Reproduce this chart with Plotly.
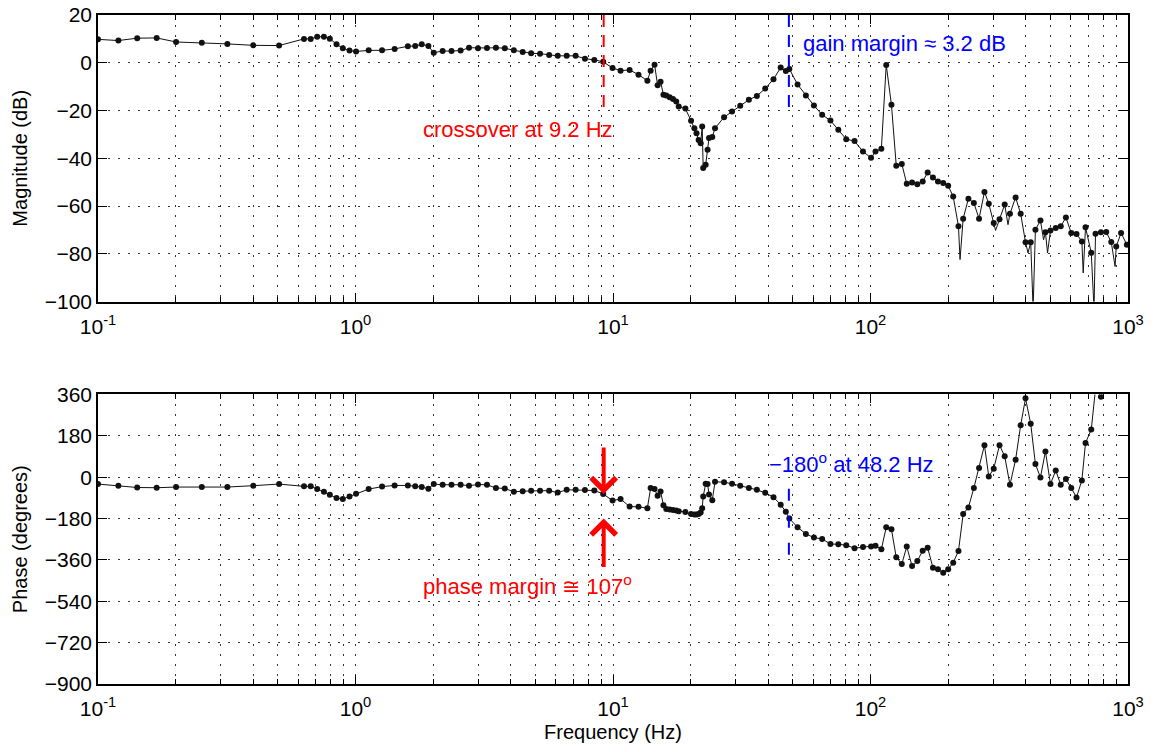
import math
import plotly.graph_objects as go

# ---------------- data ----------------
FREQ_HZ = [0.100, 0.120, 0.142, 0.169, 0.201, 0.253, 0.318, 0.401, 0.505, 0.631,
           0.670, 0.710, 0.754, 0.795, 0.844, 0.893, 0.948, 1.005, 1.125, 1.268,
           1.419, 1.597, 1.706, 1.808, 1.919, 2.013, 2.18, 2.36, 2.56, 2.76,
           2.99, 3.24, 3.51, 3.80, 4.12, 4.46, 4.81, 5.21, 5.65, 6.10,
           6.61, 7.16, 7.78, 8.46, 9.16, 9.96, 10.7, 11.6, 12.56, 13.6,
           14.0, 14.5, 14.9, 15.3, 15.7, 16.1, 16.6, 17.1, 17.6, 18.0,
           19.1, 20.1, 20.7, 21.1, 21.5, 21.9, 22.2, 22.4, 22.9, 23.3,
           23.6, 24.3, 24.9, 27.0, 29.0, 31.2, 33.7, 36.2, 39.0, 42.0,
           44.8, 46.9, 48.4, 52.1, 56.1, 60.3, 64.9, 69.9, 75.0, 80.5,
           86.7, 93.5, 100.5, 104.6, 110.2, 115.1, 120.6, 125.9, 132.3, 138.3,
           145.0, 152.0, 159.5, 166.7, 174.8, 182.8, 191.6, 200.3, 209.5, 219.6,
           229, 240, 252, 264, 277, 288, 301, 317, 332, 348,
           366, 383, 400, 419, 437, 457, 478, 500, 524, 548,
           574, 602, 631, 662, 684, 720, 748, 785, 823, 861,
           900, 940, 990]

MAG_DB = [9.8, 9.3, 10.3, 10.4, 8.7, 8.4, 7.9, 7.3, 7.2, 10.0,
          10.0, 10.9, 10.9, 10.1, 7.7, 6.1, 5.1, 4.7, 5.2, 5.2,
          5.8, 6.9, 7.0, 7.7, 7.0, 4.2, 4.9, 4.9, 5.1, 6.3,
          6.1, 6.2, 6.3, 6.1, 5.2, 4.5, 4.0, 3.8, 3.3, 2.9,
          2.9, 2.9, 1.7, 1.2, 0.4, -2.2, -3.3, -3.0, -5.0, -7.5,
          -3.3, -0.8, -9.4, -7.9, -13.4, -13.7, -14.4, -15.2, -16.2, -18.3,
          -19.2, -24.3, -27.4, -29.5, -32.3, -33.7, -26.7, -44.1, -42.7, -36.4,
          -31.5, -31.1, -27.4, -22.8, -20.4, -18.0, -15.5, -13.9, -10.8, -6.9,
          -2.0, -3.5, -2.6, -9.1, -13.7, -17.9, -21.8, -24.2, -28.1, -32.0,
          -32.8, -37.2, -39.8, -37.2, -36.0, -0.9, -17.6, -43.1, -42.4, -50.7,
          -50.1, -50.9, -49.7, -45.9, -48.0, -49.7, -50.4, -51.5, -56.0, -68.5,
          -65.3, -56.9, -58.7, -65.3, -54.1, -59.0, -67.1, -65.5, -59.4, -63.2,
          -56.4, -63.2, -75.2, -75.2, -69.9, -66.0, -71.0, -70.2, -69.2, -68.5,
          -64.8, -71.3, -71.7, -74.8, -68.9, -79.6, -71.6, -71.0, -70.9, -75.1,
          -76.9, -71.3, -76.2]

PHASE_DEG = [-30, -37, -45, -46, -43, -43, -43, -37, -30, -40,
             -40, -52, -64, -77, -91, -95, -84, -72, -52, -41,
             -36, -36, -39, -43, -50, -30, -33, -33, -33, -37,
             -32, -33, -47, -49, -64, -61, -59, -59, -59, -67,
             -55, -55, -56, -58, -73, -102, -95, -128, -129, -135,
             -47, -52, -81, -62, -122, -138, -141, -143, -145, -148,
             -152, -160, -163, -163, -160, -154, -135, -84, -29, -30,
             -75, -100, -20, -22, -29, -37, -47, -55, -68, -87,
             -120, -150, -180, -218, -247, -263, -269, -291, -292, -296,
             -309, -304, -302, -298, -314, -218, -227, -349, -378, -302,
             -387, -365, -320, -307, -394, -401, -416, -401, -372, -321,
             -160, -132, -47, 40, 139, 3, 37, 139, 91, -33,
             76, 226, 343, 232, 57, -1, 112, -30, 29, -33,
             -8, -47, -88, -14, 149, 207, 385, 350, 430, 470,
             500, 520, 540]

# deep notches of the magnitude trace that carry no marker
DIP_FREQ_HZ = [222.7, 306, 342, 409, 428, 470, 487, 670, 738, 891]
DIP_MAG_DB = [-82.4, -70.2, -67.8, -79.6, -103, -74.1, -79.6, -88.0, -103, -85.3]

CROSSOVER_HZ = 9.2
PHASE_CROSSOVER_HZ = 48.2
PHASE_MARGIN_DEG = 107
GAIN_MARGIN_DB = 3.2

MAG_TICKS = [-100, -80, -60, -40, -20, 0, 20]
PHASE_TICKS = [-900, -720, -540, -360, -180, 0, 180, 360]
DECADES = [0.1, 1, 10, 100, 1000]
DECADE_LABELS = ["10<sup>-1</sup>", "10<sup>0</sup>", "10<sup>1</sup>",
                 "10<sup>2</sup>", "10<sup>3</sup>"]

assert len(FREQ_HZ) == len(MAG_DB) == len(PHASE_DEG)

# ---------------- figure ----------------
FONT = "Liberation Sans, Arial, sans-serif"
RED = "#ff0000"
BLUE = "#0000ff"
INK = "#111111"

line_pts = sorted(zip(FREQ_HZ + DIP_FREQ_HZ, MAG_DB + DIP_MAG_DB))
line_f = [p[0] for p in line_pts]
line_m = [p[1] for p in line_pts]

minor_vals = [m * d for d in DECADES[:-1] for m in range(2, 10)]

fig = go.Figure()
fig.add_trace(go.Scatter(x=line_f, y=line_m, mode="lines",
                         line=dict(color=INK, width=1), xaxis="x", yaxis="y",
                         showlegend=False, hoverinfo="skip"))
fig.add_trace(go.Scatter(x=FREQ_HZ, y=MAG_DB, mode="markers",
                         marker=dict(color=INK, size=6), xaxis="x", yaxis="y",
                         showlegend=False))
fig.add_trace(go.Scatter(x=FREQ_HZ, y=PHASE_DEG, mode="lines+markers",
                         line=dict(color=INK, width=1),
                         marker=dict(color=INK, size=6), xaxis="x2", yaxis="y2",
                         showlegend=False))

# dashed guide lines
fig.add_trace(go.Scatter(x=[CROSSOVER_HZ, CROSSOVER_HZ], y=[20, -20], mode="lines",
                         line=dict(color=RED, width=2, dash="12px,8px"),
                         xaxis="x", yaxis="y", showlegend=False, hoverinfo="skip"))
fig.add_trace(go.Scatter(x=[PHASE_CROSSOVER_HZ, PHASE_CROSSOVER_HZ], y=[20, -20], mode="lines",
                         line=dict(color=BLUE, width=2, dash="12px,8px"),
                         xaxis="x", yaxis="y", showlegend=False, hoverinfo="skip"))
fig.add_trace(go.Scatter(x=[PHASE_CROSSOVER_HZ, PHASE_CROSSOVER_HZ], y=[-50, -355], mode="lines",
                         line=dict(color=BLUE, width=2, dash="12px,15px"),
                         xaxis="x2", yaxis="y2", showlegend=False, hoverinfo="skip"))

xaxis_common = dict(
    type="log", range=[-1, 3],
    tickvals=DECADES, ticktext=DECADE_LABELS,
    ticks="inside", ticklen=9, tickwidth=1, tickcolor="black",
    showline=True, linecolor="black", linewidth=1.5, mirror="ticks",
    showgrid=True, gridcolor="#333333", gridwidth=1, griddash="2px,8px",
    minor=dict(tickvals=minor_vals, ticks="inside", ticklen=5, tickcolor="black",
               showgrid=True, gridcolor="#333333", gridwidth=1, griddash="2px,8px"),
    tickfont=dict(family=FONT, size=21, color="black"),
    zeroline=False, ticklabelstandoff=5,
)
yaxis_common = dict(
    ticks="inside", ticklen=9, tickcolor="black",
    showline=True, linecolor="black", linewidth=1.5, mirror="ticks",
    showgrid=True, gridcolor="#333333", gridwidth=1, griddash="2px,8px",
    tickfont=dict(family=FONT, size=21, color="black"),
    zeroline=False, automargin=False,
)

H_PLOT = 752 - 15 - 67
fig.update_layout(
    width=1156, height=752,
    margin=dict(l=98, r=23, t=15, b=67),
    paper_bgcolor="white", plot_bgcolor="white",
    font=dict(family=FONT, size=20, color="black"),
    xaxis=dict(**xaxis_common, anchor="y", domain=[0, 1]),
    yaxis=dict(**yaxis_common, range=[-100, 20], tickvals=MAG_TICKS,
               domain=[1 - 287 / H_PLOT, 1], anchor="x",
               title=dict(text="Magnitude (dB)", standoff=12,
                          font=dict(family=FONT, size=20))),
    xaxis2=dict(**xaxis_common, anchor="y2", domain=[0, 1],
                title=dict(text="Frequency (Hz)", standoff=6,
                           font=dict(family=FONT, size=20))),
    yaxis2=dict(**yaxis_common, range=[-900, 360], tickvals=PHASE_TICKS,
                domain=[0, 290 / H_PLOT], anchor="x2",
                title=dict(text="Phase (degrees)", standoff=12,
                           font=dict(family=FONT, size=20))),
)

lx_c = math.log10(CROSSOVER_HZ)
lx_p = math.log10(PHASE_CROSSOVER_HZ)
phase_at_crossover = -180 + PHASE_MARGIN_DEG
ann_font = 22

fig.add_annotation(x=lx_c, y=-28, xref="x", yref="y", text="crossover at 9.2 Hz",
                   showarrow=False, xanchor="center", xshift=-86,
                   font=dict(family=FONT, size=ann_font, color=RED))
fig.add_annotation(x=lx_p, y=8, xref="x", yref="y",
                   text=f"gain margin \u2248 {GAIN_MARGIN_DB} dB",
                   showarrow=False, xanchor="left", xshift=12,
                   font=dict(family=FONT, size=ann_font, color=BLUE))
fig.add_annotation(x=lx_p, y=63, xref="x2", yref="y2",
                   text="\u2212180<sup>o</sup> at 48.2 Hz",
                   showarrow=False, xanchor="left", xshift=-22,
                   font=dict(family=FONT, size=ann_font, color=BLUE))
fig.add_annotation(x=lx_c, y=-470, xref="x2", yref="y2",
                   text=f"phase margin \u2245 {PHASE_MARGIN_DEG}<sup>o</sup>",
                   showarrow=False, xanchor="center", xshift=-76,
                   font=dict(family=FONT, size=ann_font, color=RED))
# phase-margin arrows
fig.add_annotation(x=lx_c, y=phase_at_crossover, xref="x2", yref="y2", text="",
                   showarrow=True, arrowhead=4, arrowsize=1.2, arrowwidth=4,
                   arrowcolor=RED, ax=0, ay=-48, standoff=0)
fig.add_annotation(x=lx_c, y=-180, xref="x2", yref="y2", text="",
                   showarrow=True, arrowhead=4, arrowsize=1.2, arrowwidth=4,
                   arrowcolor=RED, ax=0, ay=50, standoff=0)

fig.write_html("out.html", config={"displayModeBar": False},
               post_script="document.body.style.margin='0';")
